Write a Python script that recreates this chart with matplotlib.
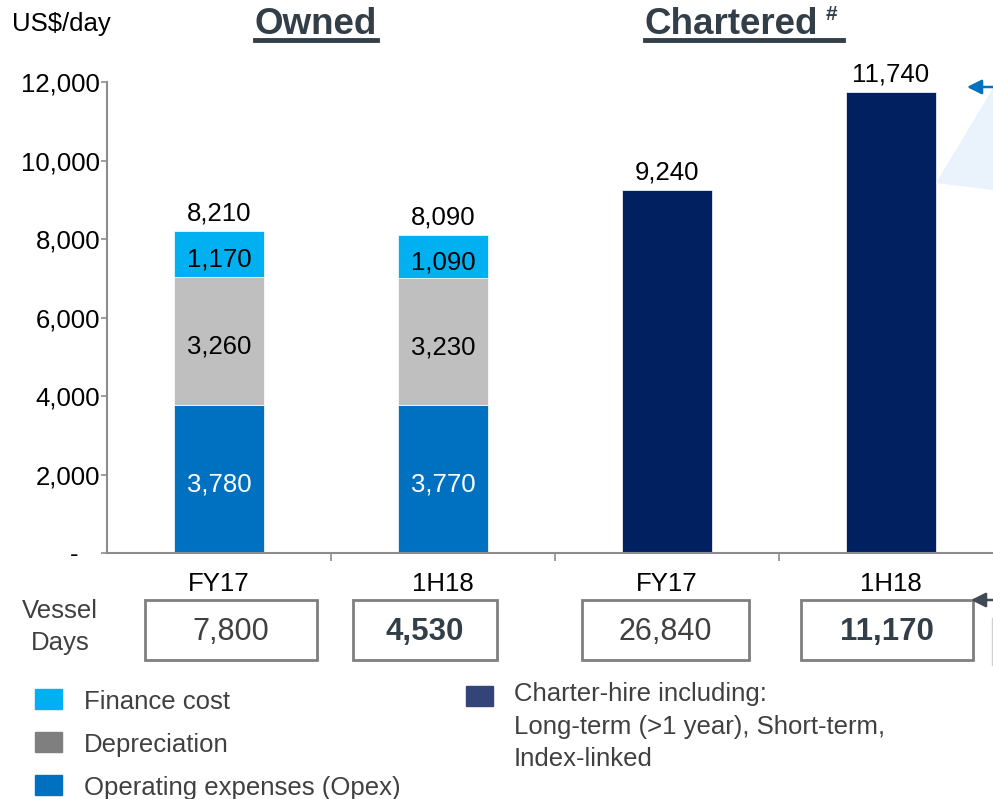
import matplotlib.pyplot as plt
import matplotlib.patches as mpatches
from matplotlib.lines import Line2D
from matplotlib.ticker import FixedLocator, FuncFormatter

plt.rcParams['font.family'] = ['Liberation Sans', 'DejaVu Sans']

# cost per day, US$
periods = ['FY17', '1H18', 'FY17', '1H18']
opex = [3780, 3770, 0, 0]
depreciation = [3260, 3230, 0, 0]
finance = [1170, 1090, 0, 0]
charter_hire = [0, 0, 9240, 11740]
totals = [8210, 8090, 9240, 11740]
vessel_days = ['7,800', '4,530', '26,840', '11,170']
days_bold = [False, True, False, True]

legend_left = ['Finance cost', 'Depreciation', 'Operating expenses (Opex)']
legend_right = 'Charter-hire including:\nLong-term (>1 year), Short-term,\nIndex-linked'

c_opex = '#0070C0'
c_dep = '#BFBFBF'
c_fin = '#00B0F0'
c_charter = '#002060'
c_slate = '#333F48'
c_text = '#404040'
c_axis = '#8C8C8C'

W, H = 993, 799
fig = plt.figure(figsize=(W / 100, H / 100), dpi=100)
ax = fig.add_axes([107 / W, 246 / H, 896 / W, 471 / H])

x = list(range(len(periods)))
bw = 0.4
owned = [0, 1]
ax.bar(x, opex, bw, color=c_opex, edgecolor='white', linewidth=0.5)
ax.bar(x, depreciation, bw, bottom=opex, color=c_dep, edgecolor='white', linewidth=0.5)
base2 = [a + b for a, b in zip(opex, depreciation)]
ax.bar(x, finance, bw, bottom=base2, color=c_fin, edgecolor='white', linewidth=0.5)
ax.bar(x, charter_hire, bw, color=c_charter, edgecolor='white', linewidth=0.5)

# segment labels
for i in owned:
    segs = [(0, opex[i], 'white'),
            (opex[i], depreciation[i], 'black'),
            (base2[i], finance[i], 'black')]
    for bottom, h, col in segs:
        ax.annotate(f'{h:,}', (i, bottom + h / 2), xytext=(0, -4),
                    textcoords='offset points', ha='center', va='center',
                    fontsize=18.5, color=col)
for i, t in enumerate(totals):
    ax.annotate(f'{t:,}', (i, t), xytext=(0, 4), textcoords='offset points',
                ha='center', va='bottom', fontsize=18.5, color='black')

ax.set_xlim(-0.5, 3.5)
ax.set_ylim(0, 12000)
ax.set_yticks(range(0, 12001, 2000))
ax.yaxis.set_major_formatter(FuncFormatter(lambda v, p: '-   ' if v == 0 else f'{int(v):,}'))
ax.tick_params(axis='y', direction='out', length=4, width=1.2, color=c_axis,
               labelsize=18.5, pad=1)
ax.set_xticks(x)
ax.set_xticklabels(periods)
ax.tick_params(axis='x', which='major', length=0, labelsize=18.5, pad=14)
ax.xaxis.set_minor_locator(FixedLocator([0.5, 1.5, 2.5]))
ax.tick_params(axis='x', which='minor', direction='out', length=6, width=1.2, color=c_axis)

for s in ['top', 'right']:
    ax.spines[s].set_visible(False)
for s in ['left', 'bottom']:
    ax.spines[s].set_color(c_axis)
    ax.spines[s].set_linewidth(1.5)

# vessel days boxes
box_left = [-0.33, 0.598, 1.62, 2.598]
box_right = [0.4375, 1.241, 2.366, 3.366]
trans = ax.get_xaxis_transform()
for lft, rgt, label, bold in zip(box_left, box_right, vessel_days, days_bold):
    ax.add_patch(mpatches.Rectangle((lft, -0.227), rgt - lft, 0.127, transform=trans,
                                    fill=False, edgecolor='#7F7F7F', linewidth=2,
                                    clip_on=False))
    ax.text((lft + rgt) / 2, -0.167, label, transform=trans, ha='center', va='center',
            fontsize=22.5 if bold else 22, fontweight='bold' if bold else 'normal',
            color=c_slate if bold else c_text)
fig.text(60 / W, 1 - 627 / H, 'Vessel\nDays', ha='center', va='center',
         fontsize=18.5, color=c_text, linespacing=1.45)

# header texts
fig.text(12 / W, 1 - 24 / H, 'US$/day', ha='left', va='center', fontsize=18.5, color='black')
t_owned = fig.text(316 / W, 1 - 24 / H, 'Owned', ha='center', va='center',
                   fontsize=26.5, fontweight='bold', color=c_slate)
t_chart = fig.text(645 / W, 1 - 24 / H, 'Chartered', ha='left', va='center',
                   fontsize=26.5, fontweight='bold', color=c_slate)
fig.text(826 / W, 1 - 15 / H, '#', ha='left', va='center',
         fontsize=15, fontweight='bold', color=c_slate)
fig.canvas.draw()
rend = fig.canvas.get_renderer()
for t, extra in [(t_owned, 0), (t_chart, 24)]:
    bb = t.get_window_extent(rend)
    fig.add_artist(Line2D([bb.x0 / W, (bb.x1 + extra) / W], [1 - 40 / H, 1 - 40 / H],
                          transform=fig.transFigure, color=c_slate, linewidth=3.5))

# legend
leg_cols = [c_fin, '#7F7F7F', c_opex]
for k, (lab, col) in enumerate(zip(legend_left, leg_cols)):
    yc = 1 - (699 + 43 * k) / H
    fig.add_artist(mpatches.Rectangle((35 / W, yc - 10 / H), 27 / W, 20 / H,
                                      transform=fig.transFigure, color=col))
    fig.text(84 / W, yc - 3 / H, lab, ha='left', va='center', fontsize=18.5, color=c_text)
fig.add_artist(mpatches.Rectangle((466 / W, 1 - 706 / H), 27 / W, 20 / H,
                                  transform=fig.transFigure, color='#344378'))
fig.text(514 / W, 1 - 682 / H, legend_right, ha='left', va='top', fontsize=18.5,
         color=c_text, linespacing=1.45)

# pointers on the right edge
fig.add_artist(mpatches.Polygon([(936 / W, 1 - 183 / H), (W / W, 1 - 88 / H), (W / W, 1 - 190 / H)],
                                closed=True, transform=fig.transFigure,
                                facecolor='#EAF3FC', edgecolor='none'))
fig.add_artist(mpatches.FancyArrowPatch((W / W, 1 - 87 / H), (967 / W, 1 - 87 / H),
                                        transform=fig.transFigure, arrowstyle='-|>',
                                        mutation_scale=22, color=c_opex, linewidth=1.8,
                                        shrinkA=0, shrinkB=0))
fig.add_artist(mpatches.FancyArrowPatch((W / W, 1 - 600 / H), (971 / W, 1 - 600 / H),
                                        transform=fig.transFigure, arrowstyle='-|>',
                                        mutation_scale=22, color='#3F4A55', linewidth=1.8,
                                        shrinkA=0, shrinkB=0))
fig.add_artist(Line2D([992 / W, 992 / W, W / W], [1 - 665 / H, 1 - 618 / H, 1 - 618 / H],
                      transform=fig.transFigure, color='#D0D0D0', linewidth=1))

fig.savefig('out.png', dpi=100)
